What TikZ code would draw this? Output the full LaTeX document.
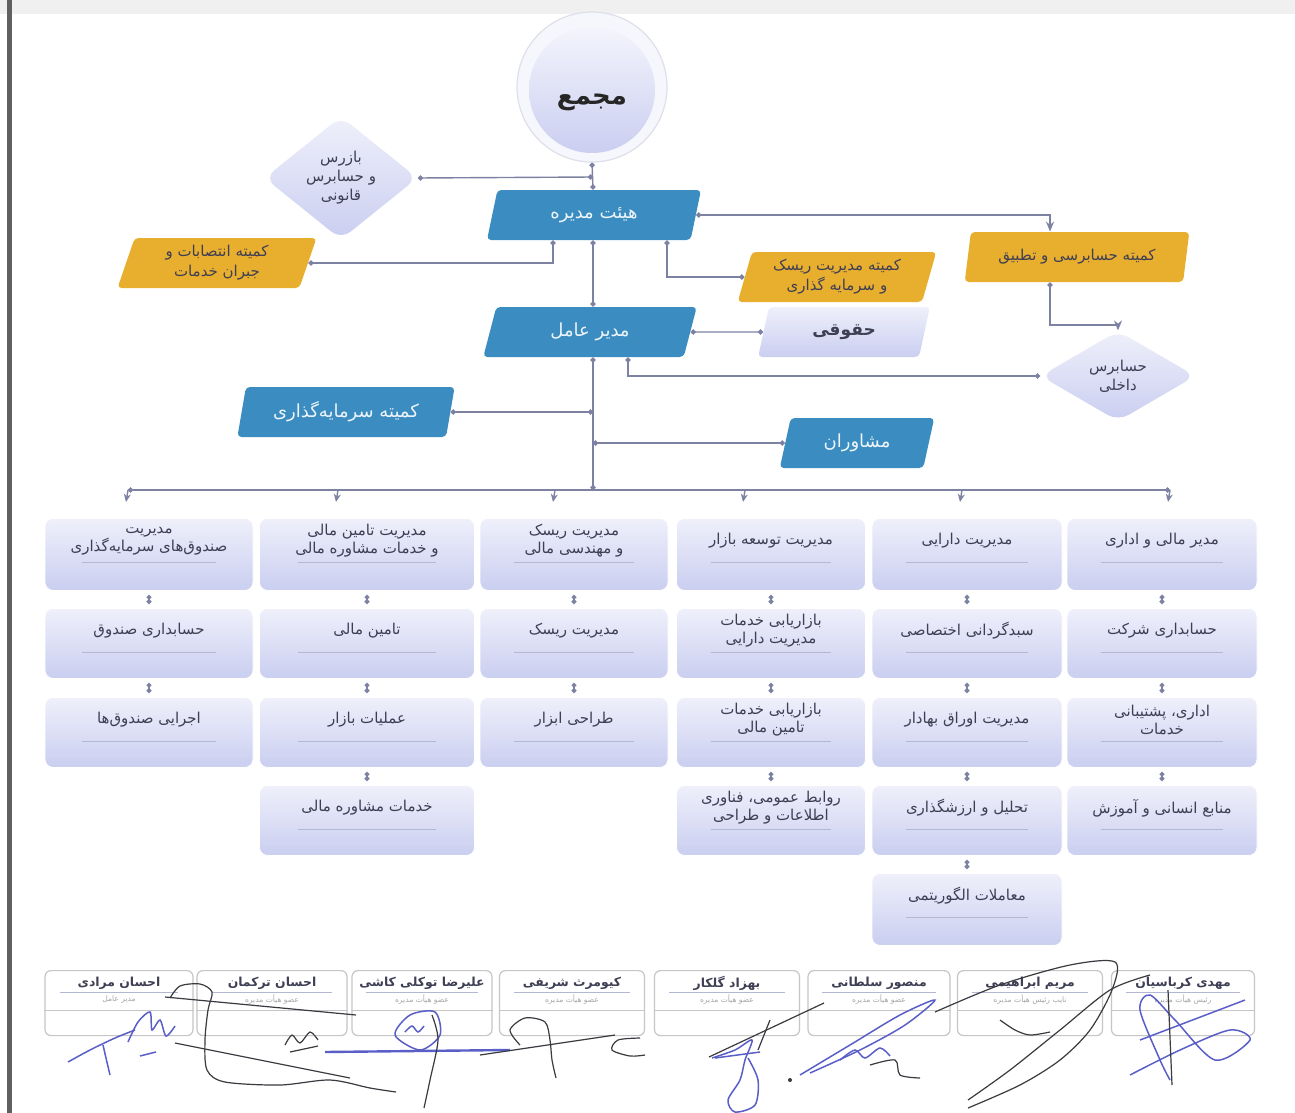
\documentclass[tikz,border=0pt]{standalone}
\usepackage{fontspec}
\usetikzlibrary{shapes.geometric,arrows.meta,calc}
\TeXXeTstate=1
\newfontfamily\arabicfont[Script=Arabic]{DejaVu Sans}
\definecolor{bluebox}{HTML}{3B8CC0}
\definecolor{bluetext}{HTML}{EEF5FB}
\definecolor{yellowbox}{HTML}{E8AE2E}
\definecolor{lavtop}{HTML}{EFF0FB}
\definecolor{lavbot}{HTML}{CACEF0}
\definecolor{conncol}{HTML}{7E82A2}
\definecolor{txtcol}{HTML}{3E3F55}
\definecolor{sepcol}{HTML}{B4B7D2}
\definecolor{sigblue}{HTML}{5A5FC8}
\definecolor{sigdark}{HTML}{3A3A40}
\tikzset{
  pw/.style={minimum width=#1*0.5pt},
  ph/.style={minimum height=#1*0.5pt},
  para/.style={trapezium, trapezium left angle=73, trapezium right angle=107,
    trapezium stretches=true, rounded corners=2pt, inner sep=0pt, align=center},
  bluep/.style={para, fill=bluebox, text=bluetext, font=\arabicfont\fontsize{9}{12}\selectfont},
  yelp/.style={para, fill=yellowbox, text=txtcol, font=\arabicfont\fontsize{7.5}{10}\selectfont},
  lavp/.style={para, top color=lavtop, bottom color=lavbot, text=txtcol, font=\arabicfont\bfseries\fontsize{8.5}{11}\selectfont},
  lavd/.style={diamond, rounded corners=6pt, inner sep=0pt, top color=lavtop, bottom color=lavbot,
    text=txtcol, align=center, font=\arabicfont\fontsize{7.5}{9.5}\selectfont},
  obox/.style={rectangle, rounded corners=4pt, top color=lavtop, bottom color=lavbot, draw=white, inner sep=0pt},
  otext/.style={text=txtcol, align=center, font=\arabicfont\fontsize{7.5}{9}\selectfont, inner sep=0pt},
  osep/.style={draw=sepcol, line width=0.4pt},
  conn/.style={draw=conncol, line width=0.7pt},
  dots/.style={{Circle[length=2.6pt]}-{Circle[length=2.6pt]}},
  arr/.style={{Circle[length=2.6pt]}-{Stealth[length=5pt,width=4pt]}},
  link/.style={conn, {Circle[length=2.4pt]}-{Circle[length=2.4pt]}, shorten >=2pt, shorten <=2pt},
  sbox/.style={rectangle, rounded corners=3pt, draw=gray!45, fill=white, line width=0.6pt},
  sname/.style={text=txtcol, font=\arabicfont\bfseries\fontsize{6.2}{7}\selectfont, inner sep=0pt},
  ssub/.style={text=gray!70, font=\arabicfont\fontsize{3.8}{4.5}\selectfont, inner sep=0pt},
  sigb/.style={draw=sigblue, line width=0.75pt},
  sigd/.style={draw=sigdark, line width=0.6pt},
}
\newcommand{\obx}[6]{%
  \node[obox, minimum width=#4*0.5pt, minimum height=#5*0.5pt, anchor=north] (#1) at (#2,#3) {};
  \node[otext] (#1t) at ($(#1.north)+(0,23)$) {#6};
  \draw[osep] ($(#1.north)+(-0.32*#4,44)$) -- ($(#1.north)+(0.32*#4,44)$);
}
\newcommand{\sgx}[5]{%
  \node[sbox, minimum width=#3*0.5pt, minimum height=65*0.5pt, anchor=north] (#1) at (#2,970) {};
  \node[sname] (#1n) at ($(#1.north)+(0,13)$) {#4};
  \draw[osep] ($(#1.north)+(-0.4*#3,22)$) -- ($(#1.north)+(0.4*#3,22)$);
  \node[ssub] (#1s) at ($(#1.north)+(0,30)$) {#5};
  \draw[draw=gray!45, line width=0.5pt] ($(#1.north west)+(0,40)$) -- ($(#1.north east)+(0,40)$);
}
\begin{document}
\begin{tikzpicture}[x=0.5pt,y=-0.5pt]
\useasboundingbox (0,0) rectangle (1295,1113);
\fill[white] (0,0) rectangle (1295,1113);
\fill[gray!12] (0,0) rectangle (1295,14);
\fill[gray!75!black] (7,0) rectangle (12,1113);

% ---- top part ----
\node[circle, minimum size=150*0.5pt, fill=lavtop!55!white, draw=lavtop!85!gray, line width=0.6pt] (majma) at (592,87) {};
\node[circle, minimum size=126*0.5pt, top color=lavtop!70!white, bottom color=lavbot] (majmain) at (592,90) {};
\node[text=black!85, font=\arabicfont\bfseries\fontsize{13}{15}\selectfont] (majmat) at (592,102) {\beginR مجمع\endR};

\node[lavd, pw=153, ph=92] (bazras) at (341,178) {\beginR بازرس\endR\\\beginR و حسابرس\endR\\\beginR قانونی\endR};
\node[bluep, pw=215, ph=50] (hey) at (594,215) {\beginR هیئت مدیره\endR};
\node[yelp, pw=200, ph=50] (ent) at (217,263) {\beginR کمیته انتصابات و\endR\\\beginR جبران خدمات\endR};
\node[yelp, pw=200, ph=50] (risk) at (837,277) {\beginR کمیته مدیریت ریسک\endR\\\beginR و سرمایه گذاری\endR};
\node[yelp, pw=225, ph=50] (hes) at (1077,257) {\beginR کمیته حسابرسی و تطبیق\endR};
\node[bluep, pw=214, ph=50] (mod) at (590,332) {\beginR مدیر عامل\endR};
\node[lavp, pw=172, ph=50] (hoq) at (844,332) {\beginR حقوقی\endR};
\node[lavd, pw=155, ph=88] (dak) at (1118,376) {\beginR حسابرس\endR\\\beginR داخلی\endR};
\node[bluep, pw=218, ph=50] (sar) at (346,412) {\beginR کمیته سرمایه‌گذاری\endR};
\node[bluep, pw=155, ph=50] (msh) at (857,443) {\beginR مشاوران\endR};

\coordinate (busL) at (128,490);
\coordinate (busR) at (1170,490);
\coordinate (busM) at (593,490);
\coordinate (jbaz) at (593,177);
\coordinate (hesT) at (1050,325);

\draw[conn, dots] (majma.south) -- (593,0 |- hey.north);
\draw[conn, dots] (bazras.east) -- (jbaz);
\draw[conn, dots] (553,0 |- hey.south) |- (ent.east);
\draw[conn, dots] (593,0 |- hey.south) -- (593,0 |- mod.north);
\draw[conn, dots] (667,0 |- hey.south) |- (risk.west);
\draw[conn, arr] (hey.east) -| (1050,0 |- hes.north);
\draw[conn, arr] (1050,0 |- hes.south) -- (hesT) -| (dak.north);
\draw[conn, dots] (mod.east) -- (hoq.west);
\draw[conn, dots] (628,0 |- mod.south) |- (dak.west);
\draw[conn, dots] (593,0 |- mod.south) -- (busM);
\draw[conn, dots] (sar.east) -- (593,0 |- sar.east);
\draw[conn, dots] (593,0 |- msh.west) -- (msh.west);
\draw[conn, dots] (busL) -- (busR);
\foreach \tx in {128,338,555,745,962,1170}{
  \draw[conn, -{Stealth[length=4pt,width=3.5pt]}] (\tx,490) -- (\tx-2,502);
}

% ---- columns ----
\obx{a1}{149}{518}{208}{72}{\beginR مدیریت\endR\\\beginR صندوق‌های سرمایه‌گذاری\endR}
\obx{a2}{149}{608}{208}{70}{\beginR حسابداری صندوق\endR}
\obx{a3}{149}{697}{208}{70}{\beginR اجرایی صندوق‌ها\endR}
\obx{b1}{367}{518}{215}{72}{\beginR مدیریت تامین مالی\endR\\\beginR و خدمات مشاوره مالی\endR}
\obx{b2}{367}{608}{215}{70}{\beginR تامین مالی\endR}
\obx{b3}{367}{697}{215}{70}{\beginR عملیات بازار\endR}
\obx{b4}{367}{785}{215}{70}{\beginR خدمات مشاوره مالی\endR}
\obx{c1}{574}{518}{188}{72}{\beginR مدیریت ریسک\endR\\\beginR و مهندسی مالی\endR}
\obx{c2}{574}{608}{188}{70}{\beginR مدیریت ریسک\endR}
\obx{c3}{574}{697}{188}{70}{\beginR طراحی ابزار\endR}
\obx{d1}{771}{518}{189}{72}{\beginR مدیریت توسعه بازار\endR}
\obx{d2}{771}{608}{189}{70}{\beginR بازاریابی خدمات\endR\\\beginR مدیریت دارایی\endR}
\obx{d3}{771}{697}{189}{70}{\beginR بازاریابی خدمات\endR\\\beginR تامین مالی\endR}
\obx{d4}{771}{785}{189}{70}{\beginR روابط عمومی، فناوری\endR\\\beginR اطلاعات و طراحی\endR}
\obx{e1}{967}{518}{190}{72}{\beginR مدیریت دارایی\endR}
\obx{e2}{967}{608}{190}{70}{\beginR سبدگردانی اختصاصی\endR}
\obx{e3}{967}{697}{190}{70}{\beginR مدیریت اوراق بهادار\endR}
\obx{e4}{967}{785}{190}{70}{\beginR تحلیل و ارزشگذاری\endR}
\obx{e5}{967}{873}{190}{72}{\beginR معاملات الگوریتمی\endR}
\obx{f1}{1162}{518}{190}{72}{\beginR مدیر مالی و اداری\endR}
\obx{f2}{1162}{608}{190}{70}{\beginR حسابداری شرکت\endR}
\obx{f3}{1162}{697}{190}{70}{\beginR اداری، پشتیبانی\endR\\\beginR خدمات\endR}
\obx{f4}{1162}{785}{190}{70}{\beginR منابع انسانی و آموزش\endR}

\foreach \u/\v in {a1/a2,a2/a3,b1/b2,b2/b3,b3/b4,c1/c2,c2/c3,d1/d2,d2/d3,d3/d4,e1/e2,e2/e3,e3/e4,e4/e5,f1/f2,f2/f3,f3/f4}{
  \draw[link] (\u.south) -- (\v.north);
}

% ---- signatures ----
\sgx{s1}{119}{148}{\beginR احسان مرادی\endR}{\beginR مدیر عامل\endR}
\sgx{s2}{272}{150}{\beginR احسان ترکمان\endR}{\beginR عضو هیأت مدیره\endR}
\sgx{s3}{422}{140}{\beginR علیرضا توکلی کاشی\endR}{\beginR عضو هیأت مدیره\endR}
\sgx{s4}{572}{145}{\beginR کیومرث شریفی\endR}{\beginR عضو هیأت مدیره\endR}
\sgx{s5}{727}{145}{\beginR بهزاد گلکار\endR}{\beginR عضو هیأت مدیره\endR}
\sgx{s6}{879}{142}{\beginR منصور سلطانی\endR}{\beginR عضو هیأت مدیره\endR}
\sgx{s7}{1030}{145}{\beginR مریم ابراهیمی\endR}{\beginR نایب رئیس هیأت مدیره\endR}
\sgx{s8}{1183}{143}{\beginR مهدی کرباسیان\endR}{\beginR رئیس هیأت مدیره\endR}

% signature strokes
\draw[sigb] plot[smooth] coordinates {(68,1062) (90,1050) (115,1038) (135,1030)};
\draw[sigb] (103,1045) .. controls (106,1058) .. (110,1075);
\draw[sigb] plot[smooth] coordinates {(128,1042) (138,1022) (150,1012) (152,1030) (160,1020) (166,1036) (175,1026)};
\draw[sigb] (140,1056) -- (156,1052);
\draw[sigd] plot[smooth] coordinates {(170,998) (180,986) (200,984) (212,992) (208,1010) (205,1040) (207,1070) (225,1082) (280,1085) (330,1080) (370,1088) (396,1092)};
\draw[sigd] (165,997) -- (356,1015);
\draw[sigd] (175,1043) -- (350,1078);
\draw[sigd] plot[smooth] coordinates {(285,1045) (292,1035) (300,1043) (310,1032) (318,1040)};
\draw[sigd] (290,1052) -- (318,1046);
\draw[sigb] plot[smooth cycle] coordinates {(395,1035) (410,1015) (435,1012) (440,1035) (420,1050)};
\draw[sigb] plot[smooth] coordinates {(405,1032) (412,1026) (418,1032) (424,1026)};
\draw[sigb, line width=1.2pt] (325,1052) -- (510,1050);
\draw[sigd] plot[smooth] coordinates {(432,1015) (438,1040) (430,1080) (424,1108)};
\draw[sigd] plot[smooth] coordinates {(520,1045) (510,1030) (525,1018) (545,1022) (550,1040) (552,1060) (556,1078)};
\draw[sigd] (480,1055) -- (615,1035);
\draw[sigd] plot[smooth] coordinates {(640,1038) (618,1040) (612,1050) (630,1056) (645,1055)};
\draw[sigd] (709,1057) -- (824,1003);
\draw[sigb] plot[smooth] coordinates {(712,1058) (735,1050) (752,1040) (745,1060) (740,1080) (728,1100) (735,1112) (755,1105) (758,1080) (748,1058)};
\draw[sigb] (715,1058) -- (760,1052);
\draw[sigd] (758,1050) -- (770,1020);
\fill[sigdark] (790,1080) circle (2);
\draw[sigb] plot[smooth] coordinates {(800,1075) (850,1045) (900,1015) (935,1000) (905,1025) (860,1050) (810,1073)};
\draw[sigb] plot[smooth] coordinates {(840,1060) (855,1050) (865,1058) (880,1048) (890,1056)};
\draw[sigd] plot[smooth] coordinates {(870,1065) (895,1060) (900,1075) (920,1078)};
\draw[sigd] plot[smooth] coordinates {(935,1012) (1000,985) (1070,965) (1115,962) (1112,990) (1090,1030) (1060,1060) (1020,1085) (968,1108)};
\draw[sigd] plot[smooth] coordinates {(968,1100) (1010,1070) (1060,1030) (1110,990) (1150,975)};
\draw[sigd] plot[smooth] coordinates {(1000,1020) (1015,1030) (1030,1035) (1050,1032)};
\draw[sigb] plot[smooth] coordinates {(1130,1075) (1180,1050) (1230,1030) (1250,1040) (1215,1060) (1175,1020) (1150,995) (1140,1010) (1160,1060) (1170,1080)};
\draw[sigb] (1140,1040) -- (1245,1000);
\draw[sigd] (1168,990) -- (1172,1085);
\end{tikzpicture}
\end{document}
